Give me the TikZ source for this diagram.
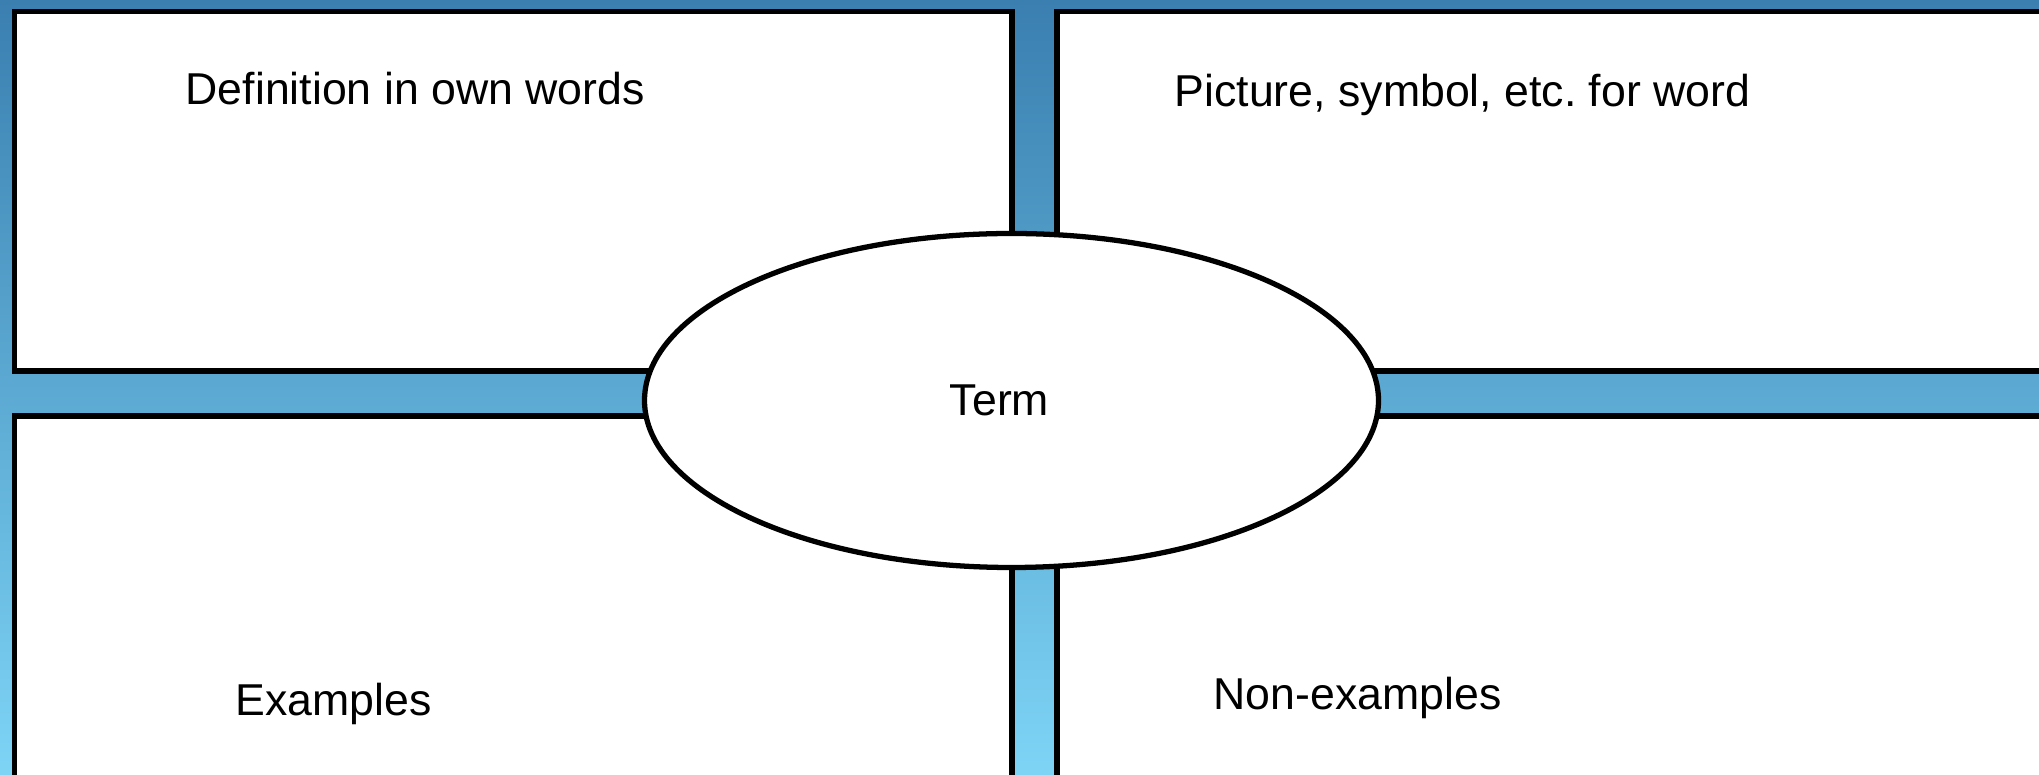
\documentclass[tikz,border=0pt]{standalone}
\usepackage{fontspec}
\setmainfont{Liberation Sans}
\usetikzlibrary{shapes.geometric}
\definecolor{bgtop}{HTML}{3A7FB0}
\definecolor{bgbottom}{HTML}{7DD4F5}
\frenchspacing
\begin{document}
\begin{tikzpicture}[
    panel/.style={draw=black, line width=1.45pt, fill=white},
    label/.style={font=\fontsize{12.7}{15}\selectfont, anchor=base west, inner sep=0pt},
    term/.style={ellipse, draw=black, line width=1.5pt, fill=white, inner sep=0pt,
                 minimum width=7.34cm, minimum height=3.34cm, font=\fontsize{12.7}{15}\selectfont}
  ]
  \useasboundingbox (0,0) rectangle (20.39,7.74);
  \clip (0,0) rectangle (20.39,7.74);
  % ---- Background ----
  \shade[top color=bgtop, bottom color=bgbottom] (0,0) rectangle (20.39,7.74);

  % ---- Four panels ----
  \draw[panel] (0.145,4.03) rectangle (10.12,7.625);
  \draw[panel] (10.57,4.03) rectangle (20.7,7.625);
  \draw[panel] (0.145,-0.3) rectangle (10.12,3.58);
  \draw[panel] (10.57,-0.3) rectangle (20.7,3.58);

  % ---- Panel labels ----
  \node[label] (def) at (1.85,6.69) {Definition in own words};
  \node[label] (pic) at (11.74,6.67) {Picture, symbol, etc. for word};
  \node[label] (ex) at (2.35,0.59) {Examples};
  \node[label] (nonex) at (12.13,0.64) {Non-examples};

  % ---- Centre ----
  \node[term] (word) at (10.115,3.735) {Term\hspace*{0.24cm}};
\end{tikzpicture}
\end{document}
